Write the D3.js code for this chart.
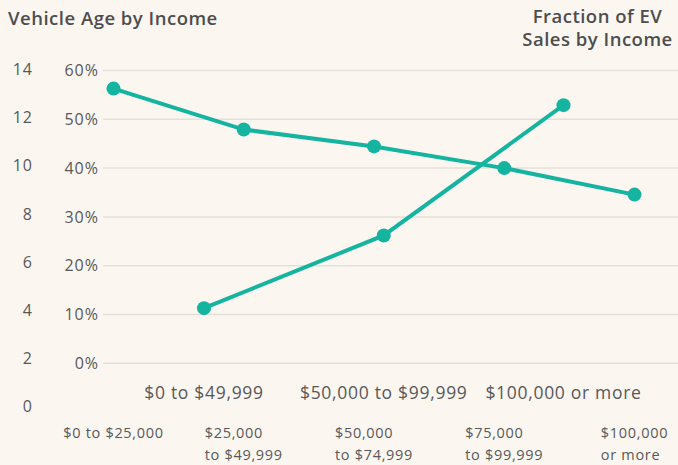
<!DOCTYPE html>
<html lang="en">
<head>
    <meta charset="UTF-8">
    <title>Vehicle Age and EV Sales by Income</title>
    <script src="https://d3js.org/d3.v7.min.js"></script>
    <style>
        body { margin: 0; background: #fbf7f0; }
        svg { display: block; font-family: "Open Sans", Lato, sans-serif; }
        .title { font-size: 18.5px; font-weight: 600; fill: #4d4d4f; letter-spacing: 0.5px; }
        .tick-label { font-size: 16px; fill: #58585a; letter-spacing: 1px; }
        .cat-top { font-size: 17.5px; fill: #58585a; letter-spacing: 0.7px; }
        .cat-bottom { font-size: 14.5px; fill: #58585a; letter-spacing: 0.7px; }
    </style>
</head>
<body>
    <script>
        // Data
        const ageCategories = ["$0 to $25,000", "$25,000|to $49,999", "$50,000|to $74,999", "$75,000|to $99,999", "$100,000|or more"];
        const ageValues = [13.2, 11.5, 10.8, 9.9, 8.8];
        const evCategories = ["$0 to $49,999", "$50,000 to $99,999", "$100,000 or more"];
        const evValues = [11.3, 26.2, 52.9];
        const ageTicks = [0, 2, 4, 6, 8, 10, 12, 14];
        const pctTicks = [0, 10, 20, 30, 40, 50, 60];

        const width = 678, height = 465;
        const teal = "#14b4a1";

        const svg = d3.select("body")
            .append("svg")
            .attr("width", width)
            .attr("height", height);

        svg.append("rect").attr("width", width).attr("height", height).attr("fill", "#fbf7f0");

        // Scales
        const yAge = d3.scaleLinear().domain([0, 14]).range([406.7, 69.3]);
        const yPct = d3.scaleLinear().domain([0, 60]).range([363.3, 70.5]);
        const xAge = d3.scalePoint().domain(ageCategories).range([113.5, 634.5]);
        const xEv = d3.scalePoint().domain(evCategories).range([204, 563.5]);

        // Gridlines (percent axis)
        svg.append("g")
            .selectAll("line")
            .data(pctTicks)
            .join("line")
            .attr("x1", 103)
            .attr("x2", width)
            .attr("y1", d => yPct(d))
            .attr("y2", d => yPct(d))
            .attr("stroke", "#e4e0d9")
            .attr("stroke-width", 1.5);

        // Age axis labels
        svg.append("g")
            .selectAll("text")
            .data(ageTicks)
            .join("text")
            .attr("class", "tick-label")
            .attr("x", 33)
            .attr("y", d => yAge(d))
            .attr("dy", "0.35em")
            .attr("text-anchor", "end")
            .text(d => d);

        // Percent axis labels
        svg.append("g")
            .selectAll("text")
            .data(pctTicks)
            .join("text")
            .attr("class", "tick-label")
            .attr("x", 99)
            .attr("y", d => yPct(d))
            .attr("dy", "0.35em")
            .attr("text-anchor", "end")
            .text(d => d + "%");

        // Titles
        svg.append("text")
            .attr("class", "title")
            .attr("x", 8)
            .attr("y", 25)
            .text("Vehicle Age by Income");

        svg.append("text")
            .attr("class", "title")
            .attr("x", 597.5)
            .attr("text-anchor", "middle")
            .selectAll("tspan")
            .data(["Fraction of EV", "Sales by Income"])
            .join("tspan")
            .attr("x", 597.5)
            .attr("y", (d, i) => 23 + i * 23)
            .text(d => d);

        // Top category labels (EV income groups)
        svg.append("g")
            .selectAll("text")
            .data(evCategories)
            .join("text")
            .attr("class", "cat-top")
            .attr("x", d => xEv(d))
            .attr("y", 393)
            .attr("dy", "0.35em")
            .attr("text-anchor", "middle")
            .text(d => d);

        // Bottom category labels (vehicle age income groups)
        const bottom = svg.append("g")
            .selectAll("text")
            .data(ageCategories)
            .join("text")
            .attr("class", "cat-bottom");

        bottom.selectAll("tspan")
            .data(d => d.split("|"))
            .join("tspan")
            .attr("y", (d, i) => 433 + i * 22)
            .attr("dy", "0.35em")
            .text(d => d);

        bottom.each(function(d) {
            const spans = d3.select(this).selectAll("tspan");
            let maxW = 0;
            spans.each(function() { maxW = Math.max(maxW, this.getComputedTextLength()); });
            spans.attr("x", xAge(d) - maxW / 2);
        });

        // Lines
        const ageLine = d3.line()
            .x((d, i) => xAge(ageCategories[i]))
            .y(d => yAge(d));

        const evLine = d3.line()
            .x((d, i) => xEv(evCategories[i]))
            .y(d => yPct(d));

        svg.append("path")
            .datum(ageValues)
            .attr("fill", "none")
            .attr("stroke", teal)
            .attr("stroke-width", 4)
            .attr("d", ageLine);

        svg.append("path")
            .datum(evValues)
            .attr("fill", "none")
            .attr("stroke", teal)
            .attr("stroke-width", 4)
            .attr("d", evLine);

        svg.append("g")
            .selectAll("circle")
            .data(ageValues)
            .join("circle")
            .attr("cx", (d, i) => xAge(ageCategories[i]))
            .attr("cy", d => yAge(d))
            .attr("r", 7)
            .attr("fill", teal);

        svg.append("g")
            .selectAll("circle")
            .data(evValues)
            .join("circle")
            .attr("cx", (d, i) => xEv(evCategories[i]))
            .attr("cy", d => yPct(d))
            .attr("r", 7)
            .attr("fill", teal);
    </script>
</body>
</html>
